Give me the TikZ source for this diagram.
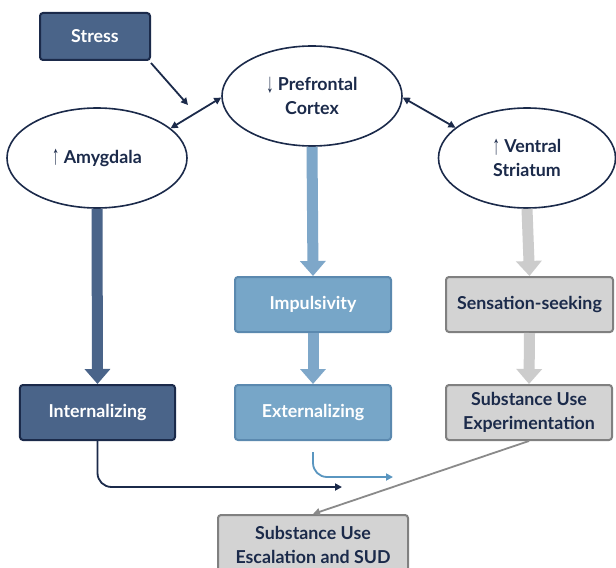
\documentclass[tikz,border=0pt]{standalone}
\usepackage{fontspec}
\usepackage{graphicx}
\setmainfont{Lato}
\newfontfamily\arrowfont{Liberation Sans}
\usetikzlibrary{shapes.geometric,arrows.meta}
\definecolor{navy}{HTML}{1B2A4A}
\definecolor{darkfill}{HTML}{4A6489}
\definecolor{lightfill}{HTML}{77A6C8}
\definecolor{lightborder}{HTML}{5B89AF}
\definecolor{grayfill}{HTML}{D3D3D3}
\definecolor{grayborder}{HTML}{808080}
\definecolor{lightshaft}{HTML}{7EA7C9}
\definecolor{grayshaft}{HTML}{CCCCCC}
\definecolor{extline}{HTML}{5A96C0}
\definecolor{grayline}{HTML}{8A8A8A}
\newcommand{\uparr}{\raisebox{-1.5bp}{\scalebox{0.85}[1.6]{\arrowfont\fontsize{17bp}{17bp}\selectfont ↑}}}
\newcommand{\downarr}{\raisebox{-1.5bp}{\scalebox{0.85}[1.6]{\arrowfont\fontsize{17bp}{17bp}\selectfont ↓}}}
\tikzset{
  every node/.style={font=\bfseries\fontsize{17.8bp}{24bp}\selectfont, align=center, inner sep=0pt},
  oval/.style={ellipse, draw=navy, line width=1.6bp, fill=white, text=navy, minimum width=180bp, minimum height=100bp},
  darkbox/.style={rectangle, rounded corners=3bp, draw=navy, line width=2bp, fill=darkfill, text=white, minimum width=155bp, minimum height=55bp},
  lightbox/.style={rectangle, rounded corners=3bp, draw=lightborder, line width=2bp, fill=lightfill, text=white, minimum width=155bp, minimum height=55bp},
  graybox/.style={rectangle, rounded corners=3bp, draw=grayborder, line width=2bp, fill=grayfill, text=navy, minimum width=166bp, minimum height=55bp},
  thickarrow/.style={line width=11bp, -{Triangle[width=25bp,length=15bp]}},
  thinarrow/.style={line width=1.8bp, color=navy, -{Triangle[width=7bp,length=7bp]}},
  dblarrow/.style={line width=1.8bp, color=navy, {Triangle[width=7bp,length=7bp]}-{Triangle[width=7bp,length=7bp]}},
}
\begin{document}
\begin{tikzpicture}[x=1bp,y=-1bp]
\fill[white] (0,0) rectangle (616,568);
\useasboundingbox (0,0) rectangle (616,568);
\clip (0,0) rectangle (616,568);
\node[darkbox, minimum width=110bp, minimum height=47bp] (stress) at (95,36.5) {Stress};
\node[oval] (pfc) at (312,96) {\downarr\ Prefrontal\\Cortex};
\node[oval] (amy) at (97,158) {\uparr\ Amygdala};
\node[oval, minimum width=177bp] (vs) at (527,158) {\uparr\ Ventral\\Striatum};
\node[lightbox, minimum width=156bp] (imp) at (313,304.5) {Impulsivity};
\node[graybox, minimum width=167bp] (sens) at (529.5,304.5) {Sensation-seeking};
\node[darkbox] (int) at (97.5,412.5) {Internalizing};
\node[lightbox, minimum width=156bp] (ext) at (313,412.5) {Externalizing};
\node[graybox] (sue) at (529,412.5) {Substance Use\\Experimentation};
\node[graybox, minimum width=190bp, minimum height=60bp] (esc) at (313,545) {Substance Use\\Escalation and SUD};
\coordinate (stressend) at (188,105);
\draw[thinarrow] (stress.south east) ++(0,2) -- (stressend);
\draw[dblarrow] (amy.22) -- (pfc.181);
\draw[dblarrow] (pfc.359) -- (vs.157);
\draw[thickarrow, darkfill] (amy.south) -- (int.north);
\draw[thickarrow, lightshaft] (pfc.south) -- (imp.north);
\draw[thickarrow, lightshaft] (imp.south) -- (ext.north);
\draw[thickarrow, grayshaft] (vs.south) -- (sens.north);
\draw[thickarrow, grayshaft] (sens.south) -- (sue.north);
\coordinate (intend) at (342,487);
\draw[thinarrow, rounded corners=14bp] (int.south) |- (intend);
\coordinate (extstart) at (313,452);
\coordinate (extend) at (393,477);
\draw[line width=1.8bp, color=extline, -{Triangle[width=7bp,length=7bp]}, rounded corners=14bp] (extstart) |- (extend);
\draw[line width=1.8bp, color=grayline, -{Triangle[width=7bp,length=7bp]}] (sue.south) -- (esc.north);
\end{tikzpicture}
\end{document}
